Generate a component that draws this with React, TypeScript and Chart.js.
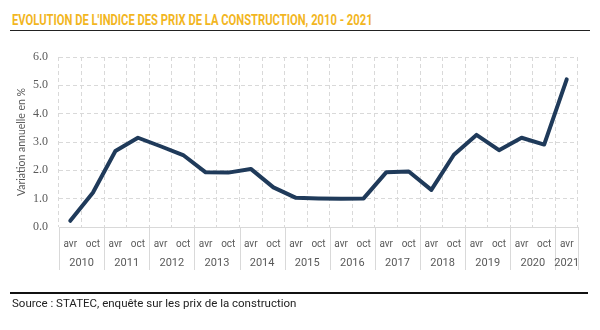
import React, { useEffect, useRef } from "react";
import { Chart, registerables } from "chart.js";

Chart.register(...registerables);

const months = ["avr","oct","avr","oct","avr","oct","avr","oct","avr","oct","avr","oct","avr","oct","avr","oct","avr","oct","avr","oct","avr","oct","avr"];
const years = ["2010","2011","2012","2013","2014","2015","2016","2017","2018","2019","2020","2021"];
const values = [0.22,1.21,2.68,3.15,2.85,2.54,1.93,1.92,2.05,1.40,1.03,1.01,1.00,1.01,1.93,1.96,1.31,2.55,3.25,2.71,3.15,2.91,5.21];
const yTicks = [0,1,2,3,4,5,6];

const TITLE = "EVOLUTION DE L'INDICE DES PRIX DE LA CONSTRUCTION, 2010 - 2021";
const SOURCE = "Source : STATEC, enquête sur les prix de la construction";
const Y_TITLE = "Variation annuelle en %";

const LABEL_FONT = "Roboto, sans-serif";

const yearPlugin = {
  id: "yearRow",
  afterDraw(chart: any) {
    const { ctx, chartArea } = chart;
    const x = chart.scales.x;
    const half = (x.getPixelForValue(1) - x.getPixelForValue(0)) / 2;
    const top = chartArea.bottom;
    const bottom = top + 43;
    ctx.save();
    ctx.strokeStyle = "#d9d9d9";
    ctx.lineWidth = 1;
    ctx.fillStyle = "#595959";
    ctx.font = "11px " + LABEL_FONT;
    ctx.textAlign = "center";
    ctx.textBaseline = "middle";
    years.forEach((yr, i) => {
      const a = 2 * i;
      const b = Math.min(2 * i + 1, months.length - 1);
      const left = x.getPixelForValue(a) - half;
      const cx = (x.getPixelForValue(a) + x.getPixelForValue(b)) / 2;
      ctx.beginPath();
      ctx.moveTo(Math.round(left) + 0.5, top);
      ctx.lineTo(Math.round(left) + 0.5, bottom);
      ctx.stroke();
      ctx.fillText(yr, cx, top + 36);
    });
    const r = Math.round(chartArea.right) + 0.5;
    ctx.beginPath();
    ctx.moveTo(r, top);
    ctx.lineTo(r, bottom);
    ctx.stroke();
    ctx.restore();
  },
};

export default function App() {
  const ref = useRef<HTMLCanvasElement>(null);
  useEffect(() => {
    if (!ref.current) return;
    const chart = new Chart(ref.current, {
      type: "line",
      data: {
        labels: months,
        datasets: [
          {
            data: values,
            borderColor: "#1f3a5a",
            borderWidth: 4,
            pointRadius: 0,
            tension: 0,
            borderJoinStyle: "round",
            borderCapStyle: "round",
            fill: false,
          },
        ],
      },
      options: {
        animation: false,
        responsive: false,
        maintainAspectRatio: false,
        layout: { padding: { left: 0, right: 22, top: 57, bottom: 58 } },
        plugins: { legend: { display: false }, tooltip: { enabled: false } },
        scales: {
          x: {
            type: "category",
            offset: true,
            grid: { offset: true, color: "#d9d9d9", drawTicks: false },
            border: { display: true, color: "#d9d9d9", dash: [4, 3] },
            ticks: {
              padding: 11,
              color: "#595959",
              font: { size: 10, family: LABEL_FONT },
              maxRotation: 0,
              autoSkip: false,
            },
            afterFit: (s: any) => { s.height = 45; },
          },
          y: {
            min: 0,
            max: 6,
            afterBuildTicks: (s: any) => { s.ticks = yTicks.map((v) => ({ value: v })); },
            grid: { color: "#d9d9d9", drawTicks: false },
            border: { display: false, dash: [4, 3] },
            ticks: {
              padding: 11,
              color: "#595959",
              font: { size: 12, family: "'Liberation Serif', 'DejaVu Serif', serif" },
              callback: (v: any) => Number(v).toFixed(1),
            },
            title: {
              display: true,
              text: Y_TITLE,
              color: "#595959",
              font: { size: 10.5, family: "Lato, sans-serif" },
              padding: { top: 15, bottom: 0 },
            },
            afterFit: (s: any) => { s.width = 59; },
          },
        },
      },
      plugins: [yearPlugin],
    });
    return () => chart.destroy();
  }, []);

  return (
    <div style={{ position: "fixed", left: 0, top: 0, width: 600, height: 330, background: "#fff", overflow: "hidden" }}>
      <div style={{ position: "absolute", left: 12, top: 13, whiteSpace: "nowrap", font: "bold 14px " + LABEL_FONT, lineHeight: "14px", color: "#f2b61f", transform: "scaleX(0.8)", transformOrigin: "0 0" }}>{TITLE}</div>
      <div style={{ position: "absolute", left: 10, top: 29.5, width: 580, height: 1.5, background: "#222" }} />
      <canvas ref={ref} width={600} height={330} style={{ position: "absolute", left: 0, top: 0, display: "block" }} />
      <div style={{ position: "absolute", left: 10, top: 292, width: 578, height: 1.7, background: "#111" }} />
      <div style={{ position: "absolute", left: 12, top: 297, whiteSpace: "nowrap", font: "11.5px " + LABEL_FONT, lineHeight: "13px", color: "#222" }}>{SOURCE}</div>
    </div>
  );
}
